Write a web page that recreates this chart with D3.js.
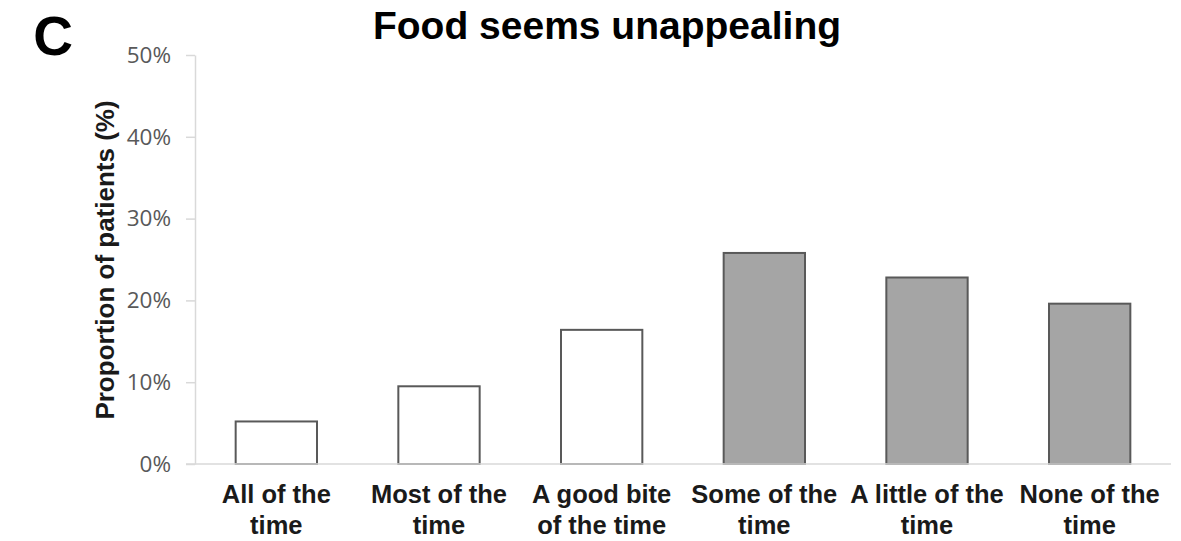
<!DOCTYPE html>
<html>
<head>
<meta charset="utf-8">
<script src="https://cdn.jsdelivr.net/npm/d3@7"></script>
<style>
  html, body { margin: 0; padding: 0; background: #fff; }
  svg { display: block; }
</style>
</head>
<body>
<svg id="chart" width="1181" height="541"></svg>
<script>
const categories = [
  ["All of the", "time"],
  ["Most of the", "time"],
  ["A good bite", "of the time"],
  ["Some of the", "time"],
  ["A little of the", "time"],
  ["None of the", "time"]
];
const values = [5.2, 9.5, 16.4, 25.8, 22.8, 19.6];
const groups = ["white", "white", "white", "grey", "grey", "grey"];
const yTicks = [0, 10, 20, 30, 40, 50];
const title = "Food seems unappealing";
const panelLabel = "C";
const yTitle = "Proportion of patients (%)";

const svg = d3.select("#chart");
const x = d3.scaleBand()
  .domain(d3.range(categories.length))
  .range([195, 1171])
  .paddingInner(0.5)
  .paddingOuter(0.25);
const y = d3.scaleLinear().domain([0, 50]).range([464, 55]);

const fill = d3.scaleOrdinal().domain(["white", "grey"]).range(["#ffffff", "#a5a5a5"]);

// y axis
const yAxis = svg.append("g")
  .attr("transform", "translate(195,0)")
  .call(d3.axisLeft(y).tickValues(yTicks).tickFormat(d => d + "%").tickSize(9).tickSizeOuter(0).tickPadding(15));
yAxis.select(".domain").attr("stroke", "#d9d9d9").attr("stroke-width", 1.5);
yAxis.selectAll(".tick line").attr("stroke", "#d9d9d9").attr("stroke-width", 1.5);
yAxis.selectAll(".tick text")
  .attr("font-family", "'Open Sans', sans-serif")
  .attr("font-size", 22.5)
  .attr("fill", "#595959");

// bars
svg.append("g").selectAll("rect")
  .data(values)
  .join("rect")
  .attr("x", (d, i) => x(i))
  .attr("y", d => y(d))
  .attr("width", x.bandwidth())
  .attr("height", d => y(0) - y(d))
  .attr("fill", (d, i) => fill(groups[i]))
  .attr("stroke", "#595959")
  .attr("stroke-width", 2);

// x axis
const xAxis = svg.append("g")
  .attr("transform", "translate(0,464)")
  .call(d3.axisBottom(x).tickSize(0).tickSizeOuter(0).tickFormat(""));
xAxis.select(".domain").attr("stroke", "#d9d9d9").attr("stroke-width", 1.5)
  .attr("d", "M186,0H1171");

// category labels
const lab = svg.append("g").selectAll("text")
  .data(categories)
  .join("text")
  .attr("x", (d, i) => x(i) + x.bandwidth() / 2)
  .attr("y", 503)
  .attr("text-anchor", "middle")
  .attr("font-family", "'Liberation Sans', Arial, sans-serif")
  .attr("font-weight", "bold")
  .attr("font-size", 25.5)
  .attr("fill", "#1a1a1a");
lab.selectAll("tspan")
  .data(d => d)
  .join("tspan")
  .attr("x", function() { return d3.select(this.parentNode).attr("x"); })
  .attr("dy", (d, i) => i === 0 ? 0 : 31)
  .text(d => d);

// title
svg.append("text")
  .attr("x", 607)
  .attr("y", 39)
  .attr("text-anchor", "middle")
  .attr("font-family", "'Liberation Sans', Arial, sans-serif")
  .attr("font-weight", "bold")
  .attr("font-size", 39)
  .attr("fill", "#000")
  .text(title);

// panel label
svg.append("text")
  .attr("x", 53)
  .attr("y", 55)
  .attr("text-anchor", "middle")
  .attr("font-family", "'Liberation Sans', Arial, sans-serif")
  .attr("font-weight", "bold")
  .attr("font-size", 55)
  .attr("fill", "#000")
  .text(panelLabel);

// y title
svg.append("text")
  .attr("transform", "translate(114,260) rotate(-90)")
  .attr("text-anchor", "middle")
  .attr("font-family", "'Liberation Sans', Arial, sans-serif")
  .attr("font-weight", "bold")
  .attr("font-size", 26)
  .attr("fill", "#1a1a1a")
  .text(yTitle);
</script>
</body>
</html>
